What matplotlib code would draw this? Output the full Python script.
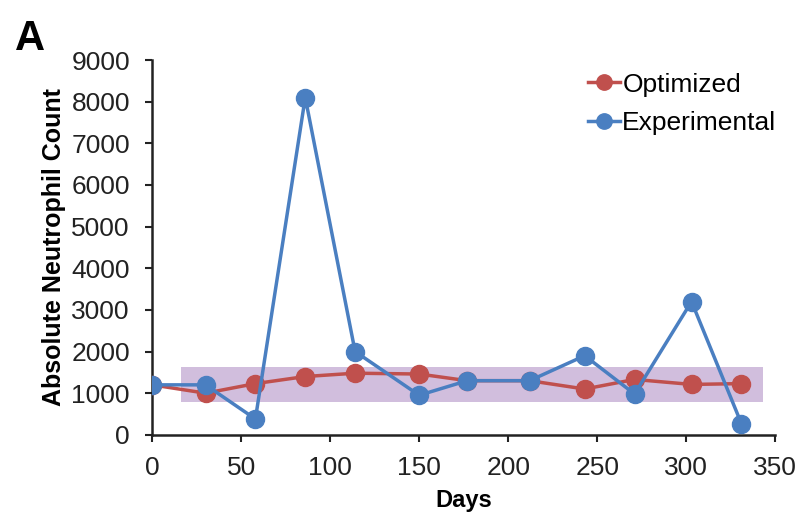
import matplotlib.pyplot as plt
from matplotlib.patches import Rectangle

plt.rcParams['font.family'] = ['Liberation Sans', 'DejaVu Sans']

days = [0, 30, 58, 86, 114, 150, 177, 212, 243, 271, 303, 331]
optimized = [1200, 1000, 1230, 1400, 1480, 1460, 1300, 1300, 1100, 1330, 1210, 1230]
experimental = [1200, 1200, 380, 8100, 2000, 950, 1300, 1300, 1900, 980, 3200, 270]

# target range band
band_days = (16, 343)
band_vals = (780, 1620)

fig = plt.figure(figsize=(8.05, 5.22), dpi=100)
ax = fig.add_axes([0.189, 0.167, 0.774, 0.718])

ax.add_patch(Rectangle((band_days[0], band_vals[0]),
                       band_days[1] - band_days[0], band_vals[1] - band_vals[0],
                       facecolor='#c9b3d8', edgecolor='none', alpha=0.85, zorder=1))

ax.plot(days, optimized, '-o', color='#c0504d', lw=2.5, ms=13,
        label='Optimized', zorder=3)
ax.plot(days, experimental, '-o', color='#4a7fc1', lw=2.5, ms=13,
        label='Experimental', zorder=4)

ax.set_xlim(0, 350)
ax.set_ylim(0, 9000)
ax.set_xticks(range(0, 351, 50))
ax.set_yticks(range(0, 9001, 1000))
ax.tick_params(labelsize=19, length=5, width=1.5, colors='#222222')
ax.tick_params(axis='y', pad=11)
ax.tick_params(axis='x', pad=10)
for s in ['top', 'right']:
    ax.spines[s].set_visible(False)
for s in ['left', 'bottom']:
    ax.spines[s].set_linewidth(1.8)
    ax.spines[s].set_color('#222222')

ax.set_xlabel('Days', fontsize=17, fontweight='bold', labelpad=7)
ax.set_ylabel('Absolute Neutrophil Count', fontsize=18, fontweight='bold', labelpad=4)

ax.legend(loc='upper right', bbox_to_anchor=(1.04, 1.03), frameon=False,
          fontsize=19, handlelength=1.2, handletextpad=0.1, labelspacing=0.55,
          markerscale=0.85)

fig.text(0.018, 0.905, 'A', fontsize=30, fontweight='bold')

plt.savefig('out.png', dpi=100)
